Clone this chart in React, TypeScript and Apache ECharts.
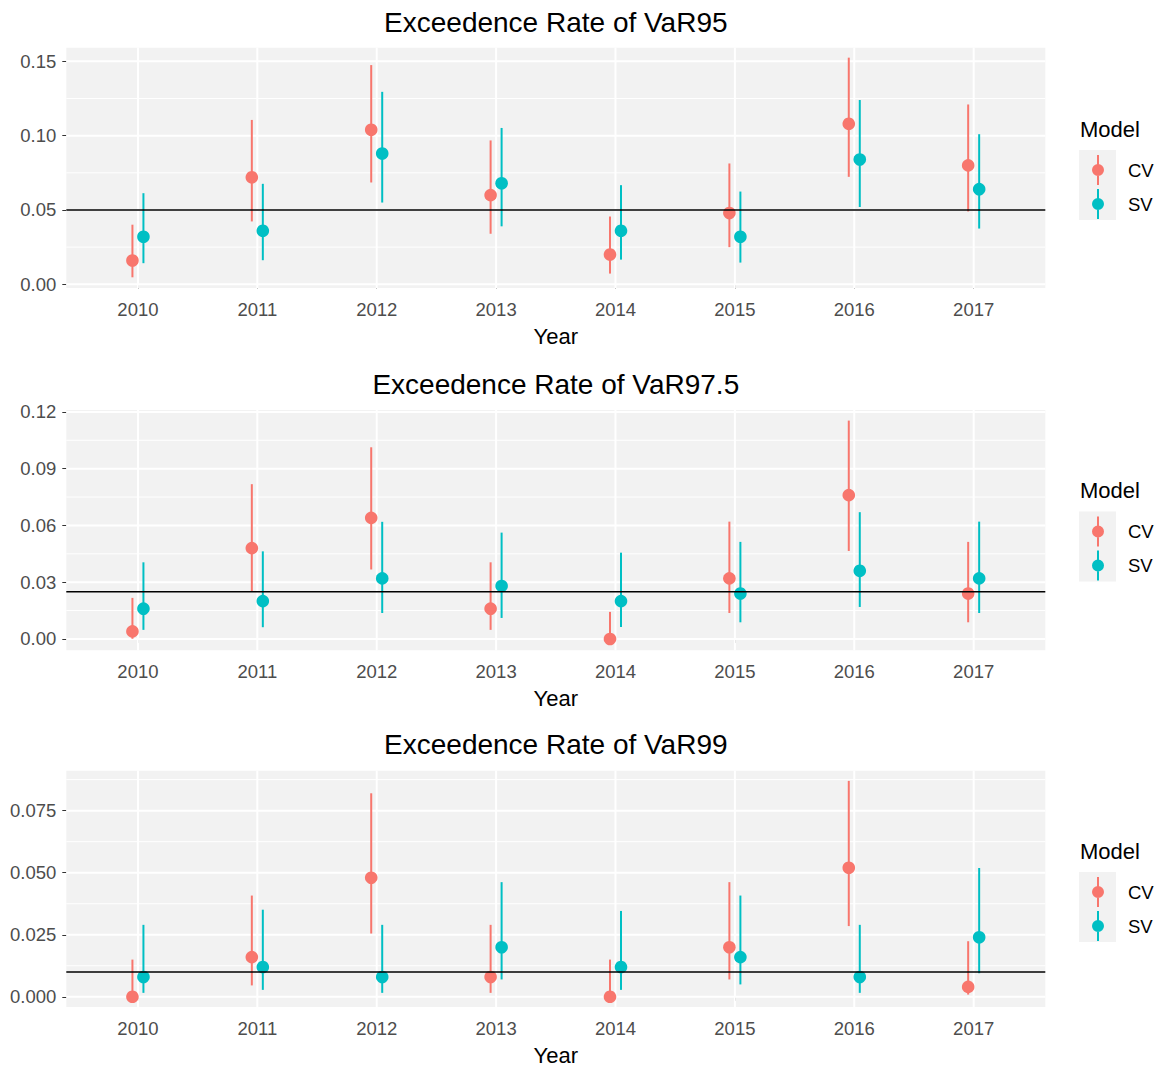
import React, { useEffect, useRef } from "react";
import * as echarts from "echarts";

// ---------- data ----------
const years = [2010, 2011, 2012, 2013, 2014, 2015, 2016, 2017];
const models = ["CV", "SV"];

// VaR95
const cv95 = [0.016, 0.072, 0.104, 0.06, 0.02, 0.048, 0.108, 0.08];
const cv95Lo = [0.0047, 0.0423, 0.0685, 0.034, 0.0072, 0.025, 0.0723, 0.049];
const cv95Hi = [0.0401, 0.1106, 0.1475, 0.0968, 0.0456, 0.0813, 0.1525, 0.121];
const sv95 = [0.032, 0.036, 0.088, 0.068, 0.036, 0.032, 0.084, 0.064];
const sv95Lo = [0.0142, 0.0162, 0.055, 0.039, 0.0166, 0.0146, 0.052, 0.0375];
const sv95Hi = [0.0613, 0.0676, 0.1295, 0.1052, 0.0667, 0.0624, 0.124, 0.101];

// VaR97.5
const cv975 = [0.004, 0.048, 0.064, 0.016, 0.0, 0.032, 0.076, 0.024];
const cv975Lo = [0.0001, 0.0248, 0.0367, 0.0048, 0.0, 0.0137, 0.0465, 0.0088];
const cv975Hi = [0.0217, 0.0818, 0.1013, 0.0405, 0.0143, 0.062, 0.1154, 0.0513];
const sv975 = [0.016, 0.02, 0.032, 0.028, 0.02, 0.024, 0.036, 0.032];
const sv975Lo = [0.0048, 0.0062, 0.0137, 0.0111, 0.0063, 0.0088, 0.0169, 0.0137];
const sv975Hi = [0.0405, 0.0463, 0.0619, 0.0562, 0.0456, 0.0513, 0.067, 0.062];

// VaR99
const cv99 = [0.0, 0.016, 0.048, 0.008, 0.0, 0.02, 0.052, 0.004];
const cv99Lo = [0.0, 0.0046, 0.0255, 0.0016, 0.0, 0.007, 0.0285, 0.0009];
const cv99Hi = [0.015, 0.0408, 0.082, 0.029, 0.015, 0.0462, 0.087, 0.0224];
const sv99 = [0.008, 0.012, 0.008, 0.02, 0.012, 0.016, 0.008, 0.024];
const sv99Lo = [0.0016, 0.0028, 0.0016, 0.007, 0.0028, 0.005, 0.0016, 0.0095];
const sv99Hi = [0.029, 0.0351, 0.029, 0.0462, 0.0346, 0.0408, 0.029, 0.0519];

const titles = ["Exceedence Rate of VaR95", "Exceedence Rate of VaR97.5", "Exceedence Rate of VaR99"];
const refLevels = [0.05, 0.025, 0.01];
const yMajor = [
  [0, 0.05, 0.1, 0.15],
  [0, 0.03, 0.06, 0.09, 0.12],
  [0, 0.025, 0.05, 0.075],
];
const yMinor = [
  [0.025, 0.075, 0.125],
  [0.015, 0.045, 0.075, 0.105],
  [0.0125, 0.0375, 0.0625, 0.0875],
];
const yRange = [
  [-0.0025, 0.1592],
  [-0.006, 0.121],
  [-0.0041, 0.0911],
];
const yDigits = [2, 2, 3];
const xRange = [2009.4, 2017.6];

const seriesData = [
  { CV: [cv95, cv95Lo, cv95Hi], SV: [sv95, sv95Lo, sv95Hi] },
  { CV: [cv975, cv975Lo, cv975Hi], SV: [sv975, sv975Lo, sv975Hi] },
  { CV: [cv99, cv99Lo, cv99Hi], SV: [sv99, sv99Lo, sv99Hi] },
];

// ---------- layout / style ----------
const FONT = '"Liberation Sans", Arial, Helvetica, sans-serif';
const COLORS: Record<string, string> = { CV: "#F8766D", SV: "#00BFC4" };
const DODGE: Record<string, number> = { CV: -5.5, SV: 5.5 };
const panelTop = [47.7, 410, 770.7];
const panelHeight = 240.3;
const panelLeft = 66.3;
const panelWidth = 979;
const offsets = [0, 361.5, 722];
const LEGEND_ICON = "path://M5 0H7V30H5Z M6 9A6 6 0 1 1 6 21A6 6 0 1 1 6 9Z";

function buildOption() {
  const grid: any[] = [];
  const xAxis: any[] = [];
  const yAxis: any[] = [];
  const series: any[] = [];
  const legend: any[] = [];
  const graphic: any[] = [];

  titles.forEach((title, i) => {
    grid.push({
      left: panelLeft,
      top: panelTop[i],
      width: panelWidth,
      height: panelHeight,
      show: true,
      backgroundColor: "#F2F2F2",
      borderWidth: 0,
    });
    xAxis.push({
      type: "value",
      gridIndex: i,
      min: xRange[0],
      max: xRange[1],
      axisLine: { show: false },
      splitLine: { show: false },
      axisTick: {
        show: true,
        customValues: years,
        length: 4,
        lineStyle: { color: "#333333", width: 1 },
      },
      axisLabel: {
        customValues: years,
        formatter: (v: number) => String(Math.round(v)),
        color: "#4D4D4D",
        fontSize: 18.5,
        fontFamily: FONT,
        margin: 12,
      },
      name: "Year",
      nameLocation: "middle",
      nameGap: 37,
      nameTextStyle: { color: "#000000", fontSize: 22, fontFamily: FONT },
    });
    yAxis.push({
      type: "value",
      gridIndex: i,
      min: yRange[i][0],
      max: yRange[i][1],
      axisLine: { show: false },
      splitLine: { show: false },
      axisTick: {
        show: true,
        customValues: yMajor[i],
        length: 4,
        lineStyle: { color: "#333333", width: 1 },
      },
      axisLabel: {
        customValues: yMajor[i],
        formatter: (v: number) => v.toFixed(yDigits[i]),
        color: "#4D4D4D",
        fontSize: 18.5,
        fontFamily: FONT,
        margin: 10,
      },
    });

    // panel grid lines (white)
    const gridData: number[][] = [];
    yMinor[i].forEach((v) => gridData.push([xRange[0], v, 1]));
    yMajor[i].forEach((v) => gridData.push([xRange[0], v, 0]));
    years.forEach((y) => gridData.push([y, yRange[i][0], 2]));
    series.push({
      type: "custom",
      name: "grid" + i,
      xAxisIndex: i,
      yAxisIndex: i,
      silent: true,
      z: 1,
      data: gridData,
      renderItem: (params: any, api: any) => {
        const cs = params.coordSys;
        const kind = api.value(2);
        if (kind === 2) {
          const px = api.coord([api.value(0), api.value(1)])[0];
          return {
            type: "line",
            shape: { x1: px, y1: cs.y, x2: px, y2: cs.y + cs.height },
            style: { stroke: "#FFFFFF", lineWidth: 2 },
          };
        }
        const py = api.coord([api.value(0), api.value(1)])[1];
        return {
          type: "line",
          shape: { x1: cs.x, y1: py, x2: cs.x + cs.width, y2: py },
          style: { stroke: "#FFFFFF", lineWidth: kind === 0 ? 2 : 1 },
        };
      },
    });

    // point ranges
    models.forEach((m) => {
      const [vals, lo, hi] = (seriesData[i] as any)[m];
      const color = COLORS[m];
      const dx = DODGE[m];
      series.push({
        type: "custom",
        name: m,
        xAxisIndex: i,
        yAxisIndex: i,
        z: 3,
        itemStyle: { color },
        encode: { x: 0, y: [1, 2, 3] },
        data: years.map((y, j) => [y, vals[j], lo[j], hi[j]]),
        renderItem: (params: any, api: any) => {
          const x = api.value(0);
          const p = api.coord([x, api.value(1)]);
          const pLo = api.coord([x, api.value(2)]);
          const pHi = api.coord([x, api.value(3)]);
          return {
            type: "group",
            children: [
              {
                type: "line",
                shape: { x1: p[0] + dx, y1: pHi[1], x2: p[0] + dx, y2: pLo[1] },
                style: { stroke: color, lineWidth: 2 },
              },
              {
                type: "circle",
                shape: { cx: p[0] + dx, cy: p[1], r: 6.3 },
                style: { fill: color },
              },
            ],
          };
        },
      });
    });

    // reference line
    series.push({
      type: "custom",
      name: "ref" + i,
      xAxisIndex: i,
      yAxisIndex: i,
      silent: true,
      z: 4,
      data: [[xRange[0], refLevels[i]]],
      renderItem: (params: any, api: any) => {
        const cs = params.coordSys;
        const py = api.coord([api.value(0), api.value(1)])[1];
        return {
          type: "line",
          shape: { x1: cs.x, y1: py, x2: cs.x + cs.width, y2: py },
          style: { stroke: "#000000", lineWidth: 1.5 },
        };
      },
    });

    legend.push({
      data: models,
      orient: "vertical",
      left: 1092,
      top: 155 + offsets[i],
      itemWidth: 12,
      itemHeight: 30,
      itemGap: 4,
      padding: 0,
      selectedMode: false,
      icon: LEGEND_ICON,
      textStyle: {
        fontSize: 18.5,
        color: "#000000",
        fontFamily: FONT,
        padding: [0, 0, 0, 19],
      },
    });

    graphic.push({
      type: "text",
      x: panelLeft + panelWidth / 2,
      y: 22.5 + offsets[i],
      z: 10,
      style: {
        text: title,
        fontSize: 28,
        fontFamily: FONT,
        fill: "#000000",
        align: "center",
        verticalAlign: "middle",
      },
    });
    graphic.push({
      type: "text",
      x: 1080,
      y: 129 + offsets[i],
      z: 10,
      style: {
        text: "Model",
        fontSize: 22,
        fontFamily: FONT,
        fill: "#000000",
        align: "left",
        verticalAlign: "middle",
      },
    });
    graphic.push({
      type: "rect",
      z: 0,
      shape: { x: 1079, y: 150 + offsets[i], width: 37, height: 70 },
      style: { fill: "#F2F2F2" },
    });
  });

  return {
    animation: false,
    backgroundColor: "#FFFFFF",
    grid,
    xAxis,
    yAxis,
    series,
    legend,
    graphic,
  };
}

export default function App() {
  const ref = useRef<HTMLDivElement>(null);
  useEffect(() => {
    if (!ref.current) return;
    const chart = echarts.init(ref.current, undefined, { renderer: "svg" });
    chart.setOption(buildOption() as any);
    return () => chart.dispose();
  }, []);
  return (
    <div
      ref={ref}
      style={{ position: "absolute", left: 0, top: 0, width: 1160, height: 1067 }}
    />
  );
}
